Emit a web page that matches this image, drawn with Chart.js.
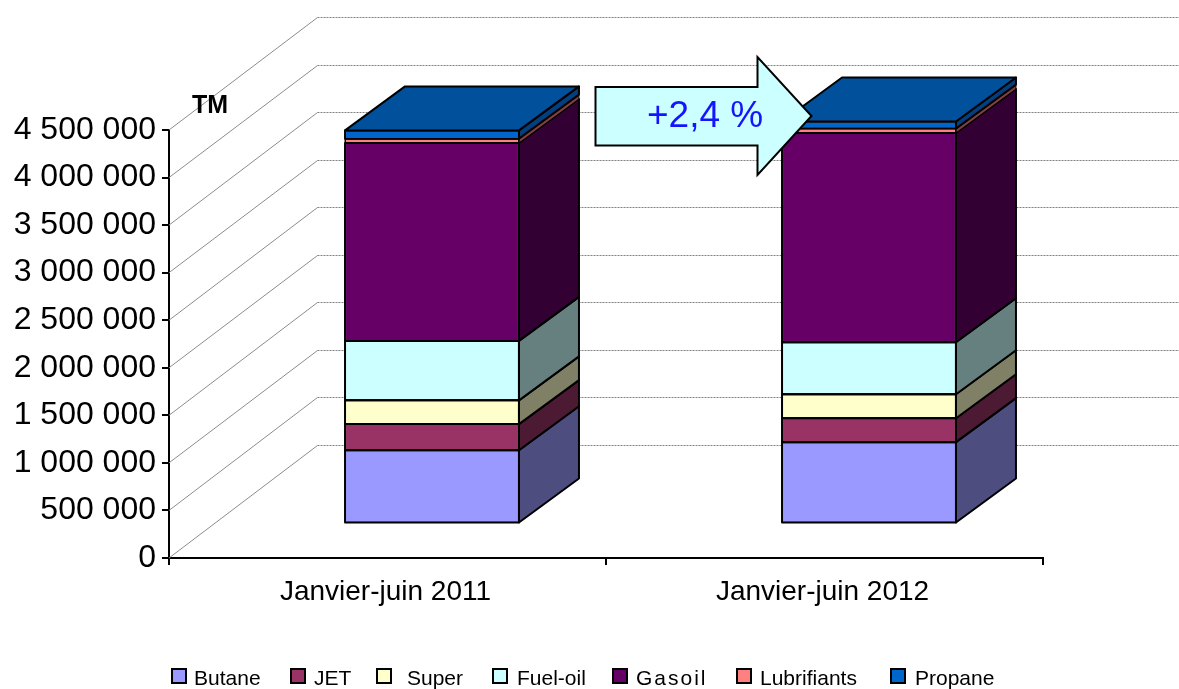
<!DOCTYPE html>
<html>
<head>
<meta charset="utf-8">
<title>Janvier-juin 2011 / 2012</title>
<script src="https://cdn.jsdelivr.net/npm/chart.js@4"></script>
<style>
    html, body { margin: 0; padding: 0; background: #fff; }
    #wrap { width: 1179px; height: 689px; overflow: hidden; }
</style>
</head>
<body>
<div id="wrap"><canvas id="chart" width="1179" height="689"></canvas></div>
<script>
const categories = ["Janvier-juin 2011", "Janvier-juin 2012"];

const butane = [770000, 855000];
const jet = [275000, 252000];
const superFuel = [250000, 252000];
const fuelOil = [625000, 547000];
const gasoil = [2080000, 2200000];
const lubrifiants = [46000, 46000];
const propane = [87000, 75000];

const seriesNames = ["Butane", "JET", "Super", "Fuel-oil", "Gasoil", "Lubrifiants", "Propane"];
const seriesValues = [butane, jet, superFuel, fuelOil, gasoil, lubrifiants, propane];
const frontColors = ["#9999FF", "#993366", "#FFFFCC", "#CCFFFF", "#660066", "#FF8080", "#0066CC"];
const sideColors = ["#4D4D80", "#4D1A33", "#808066", "#668080", "#330033", "#804040", "#003F80"];
const topColor = "#00509C";

const yMax = 4500000;
const yStep = 500000;

const FONT = "'Liberation Sans', Arial, sans-serif";

// how the fake 3D box sits on the page
const wallDepth = { x: 148.5, y: -113 };
const barShift = { x: 44.5, y: -34.5 };
const barDepth = { x: 60, y: -44 };

// legend spacing in the original is uneven, so it is placed by hand
const legendBoxX = [172, 291, 377, 493, 613, 737, 891];
const legendTextX = [194, 314, 407, 517, 636, 760, 915];

const wallPlugin = {
    id: "wall",
    // gridlines on the floor side and back wall, behind the bars
    beforeDatasetsDraw(chart) {
        const ctx = chart.ctx;
        const yScale = chart.scales.y;
        const left = chart.chartArea.left;
        ctx.save();
        ctx.lineWidth = 1;
        yScale.ticks.forEach(tick => {
            const y = yScale.getPixelForValue(tick.value);
            const backX = left + wallDepth.x;
            const backY = Math.round(y + wallDepth.y) + 0.5;
            ctx.strokeStyle = "#8c8c8c";
            ctx.setLineDash([]);
            ctx.beginPath();
            ctx.moveTo(left, y);
            ctx.lineTo(backX, backY);
            ctx.stroke();
            ctx.setLineDash([2, 1]);
            ctx.strokeStyle = "#808080";
            ctx.beginPath();
            ctx.moveTo(backX, backY);
            ctx.lineTo(chart.width, backY);
            ctx.stroke();
        });
        ctx.restore();
        ctx.save();
        ctx.translate(barShift.x, barShift.y);
    },
    afterDatasetsDraw(chart) {
        const ctx = chart.ctx;
        ctx.lineWidth = 2;
        ctx.strokeStyle = "#000";
        ctx.lineJoin = "round";
        categories.forEach((cat, c) => {
            seriesNames.forEach((name, s) => {
                const bar = chart.getDatasetMeta(s).data[c];
                const right = bar.x + bar.width / 2;
                const left = bar.x - bar.width / 2;
                // side face
                ctx.fillStyle = sideColors[s];
                ctx.beginPath();
                ctx.moveTo(right, bar.base);
                ctx.lineTo(right + barDepth.x, bar.base + barDepth.y);
                ctx.lineTo(right + barDepth.x, bar.y + barDepth.y);
                ctx.lineTo(right, bar.y);
                ctx.closePath();
                ctx.fill();
                // thin slices get a thin outline or they turn black
                ctx.lineWidth = s === 5 ? 1 : 2;
                ctx.stroke();
                // front outline
                ctx.strokeRect(left, bar.y, bar.width, bar.base - bar.y);
                // only the last series shows its top
                if (s === seriesNames.length - 1) {
                    ctx.lineWidth = 2;
                    ctx.fillStyle = topColor;
                    ctx.beginPath();
                    ctx.moveTo(left, bar.y);
                    ctx.lineTo(left + barDepth.x, bar.y + barDepth.y);
                    ctx.lineTo(right + barDepth.x, bar.y + barDepth.y);
                    ctx.lineTo(right, bar.y);
                    ctx.closePath();
                    ctx.fill();
                    ctx.stroke();
                }
            });
        });
        ctx.restore();
    },
    afterDraw(chart) {
        const ctx = chart.ctx;
        ctx.save();
        ctx.fillStyle = "#000";
        ctx.font = "bold 25px " + FONT;
        ctx.textAlign = "left";
        ctx.textBaseline = "alphabetic";
        ctx.fillText("TM", 192, 113);

        // the +2,4 % arrow
        ctx.fillStyle = "#CCFFFF";
        ctx.strokeStyle = "#000";
        ctx.lineWidth = 2;
        ctx.lineJoin = "miter";
        ctx.beginPath();
        ctx.moveTo(595.5, 87);
        ctx.lineTo(757.5, 87);
        ctx.lineTo(757.5, 57);
        ctx.lineTo(811.5, 116);
        ctx.lineTo(757.5, 175);
        ctx.lineTo(757.5, 145.5);
        ctx.lineTo(595.5, 145.5);
        ctx.closePath();
        ctx.fill();
        ctx.stroke();
        ctx.fillStyle = "#1414FF";
        ctx.font = "37px " + FONT;
        ctx.fillText("+2,4 %", 647, 127);

        // legend
        ctx.font = "21px " + FONT;
        seriesNames.forEach((name, s) => {
            ctx.fillStyle = frontColors[s];
            ctx.fillRect(legendBoxX[s], 669, 14, 14);
            ctx.strokeRect(legendBoxX[s], 669, 14, 14);
            ctx.fillStyle = "#000";
            // "Gasoil" is spaced out in the original
            ctx.letterSpacing = name === "Gasoil" ? "2px" : "0px";
            ctx.fillText(name, legendTextX[s], 685);
        });
        ctx.restore();
    }
};

const datasets = seriesNames.map((name, s) => ({
    label: name,
    data: seriesValues[s],
    backgroundColor: frontColors[s],
    borderColor: "#000",
    borderWidth: 1,
    borderSkipped: false,
    barPercentage: 0.398,
    categoryPercentage: 1,
    clip: false
}));

new Chart(document.getElementById("chart").getContext("2d"), {
    type: "bar",
    data: { labels: categories, datasets: datasets },
    plugins: [wallPlugin],
    options: {
        responsive: false,
        animation: false,
        devicePixelRatio: 1,
        layout: { padding: { top: 130, right: 136, left: 0, bottom: 0 } },
        plugins: {
            tooltip: { enabled: false },
            legend: { display: false }
        },
        scales: {
            x: {
                stacked: true,
                afterFit(scale) { scale.height = 131; },
                border: { color: "#000", width: 2 },
                grid: { drawOnChartArea: false, color: "#000", lineWidth: 2, tickLength: 7 },
                ticks: { color: "#000", padding: 10, labelOffset: -2, font: { family: FONT, size: 28 }, maxRotation: 0 }
            },
            y: {
                stacked: true,
                min: 0,
                max: yMax,
                afterFit(scale) { scale.width = 169; },
                border: { color: "#000", width: 2 },
                grid: { drawOnChartArea: false, color: "#000", lineWidth: 2, tickLength: 7 },
                ticks: {
                    stepSize: yStep,
                    color: "#000",
                    padding: 6,
                    font: { family: FONT, size: 32 },
                    callback: value => String(value).replace(/\B(?=(\d{3})+$)/g, " ")
                }
            }
        }
    }
});
</script>
</body>
</html>
